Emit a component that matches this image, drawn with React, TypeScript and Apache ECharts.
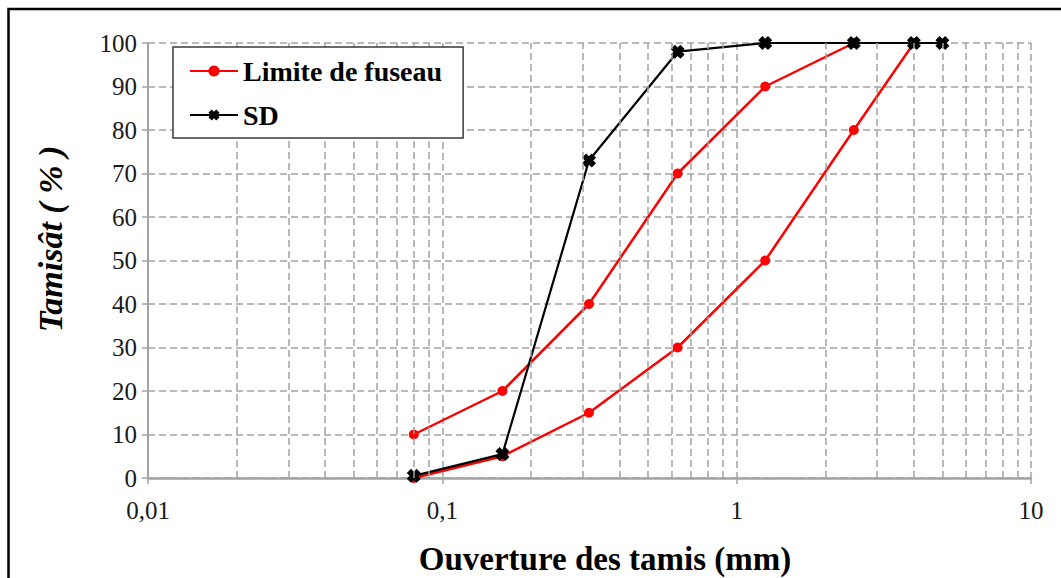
import React, { useEffect, useRef } from "react";
import * as echarts from "echarts";

// ---- data ----
const sieveSizes = [0.08, 0.16, 0.315, 0.63, 1.25, 2.5, 4, 5];
const fuseauUpperSizes = [0.08, 0.16, 0.315, 0.63, 1.25, 2.5];
const fuseauUpperValues = [10, 20, 40, 70, 90, 100];
const fuseauLowerSizes = [0.08, 0.16, 0.315, 0.63, 1.25, 2.5, 4];
const fuseauLowerValues = [0, 5, 15, 30, 50, 80, 100];
const sdValues = [0.5, 5.5, 73, 98, 100, 100, 100, 100];
const xTickLabels = ["0,01", "0,1", "1", "10"];
const yTickValues = [0, 10, 20, 30, 40, 50, 60, 70, 80, 90, 100];
const decades = [0.01, 0.1, 1];
const minorMultipliers = [2, 3, 4, 5, 6, 7, 8, 9];

const SERIF = '"Liberation Serif", "Times New Roman", serif';
const GRID_COLOR = "#a3a3a3";
const CROSS =
  "path://M0,3 L3,0 L5,2 L7,0 L10,3 L8,5 L10,7 L7,10 L5,8 L3,10 L0,7 L2,5 Z";

export default function App() {
  const ref = useRef<HTMLDivElement>(null);
  useEffect(() => {
    if (!ref.current) return;
    const chart = echarts.init(ref.current, null, { renderer: "svg" });
    const minorGrid: number[] = [];
    decades.forEach((d) =>
      minorMultipliers.forEach((m) => minorGrid.push(+(d * m).toPrecision(3)))
    );
    chart.setOption({
      animation: false,
      backgroundColor: "#ffffff",
      grid: { left: 148, right: 30, top: 43, bottom: 100, containLabel: false },
      legend: {
        data: ["Limite de fuseau", "SD"],
        orient: "vertical",
        left: 173,
        top: 47,
        z: 20,
        padding: [9, 21, 8, 16],
        itemGap: 14,
        itemWidth: 48,
        itemHeight: 14,
        backgroundColor: "#ffffff",
        borderColor: "#3a3a3a",
        borderWidth: 1.5,
        borderRadius: 0,
        selectedMode: false,
        textStyle: {
          fontFamily: SERIF,
          fontSize: 28,
          fontWeight: "bold",
          color: "#000",
          lineHeight: 30,
        },
      },
      xAxis: {
        type: "log",
        logBase: 10,
        min: 0.01,
        max: 10,
        axisLine: { show: true, onZero: false, lineStyle: { color: GRID_COLOR, width: 2.5 } },
        axisTick: { show: true, inside: false, length: 6, lineStyle: { color: GRID_COLOR, width: 1.5 } },
        axisLabel: {
          margin: 20,
          fontFamily: SERIF,
          fontSize: 25,
          color: "#1a1a1a",
          formatter: (v: number) => xTickLabels[Math.round(Math.log10(v)) + 2] ?? "",
        },
        splitLine: { show: true, lineStyle: { color: GRID_COLOR, type: [7, 4], width: 1.5 } },
      },
      yAxis: {
        type: "value",
        min: yTickValues[0],
        max: yTickValues[yTickValues.length - 1],
        interval: 10,
        axisLine: { show: true, lineStyle: { color: GRID_COLOR, width: 2 } },
        axisTick: { show: true, inside: false, length: 6, lineStyle: { color: GRID_COLOR, width: 1.5 } },
        axisLabel: { margin: 11, fontFamily: SERIF, fontSize: 25, color: "#1a1a1a" },
        splitLine: { show: true, lineStyle: { color: GRID_COLOR, type: [7, 4], width: 1.5 } },
      },
      series: [
        {
          name: "minorGrid",
          type: "line",
          data: [],
          z: 1,
          silent: true,
          markLine: {
            silent: true,
            symbol: ["none", "none"],
            label: { show: false },
            lineStyle: { color: GRID_COLOR, type: [7, 4], width: 1.5 },
            emphasis: { disabled: true },
            data: minorGrid.map((v) => ({ xAxis: v })),
          },
        },
        {
          name: "Limite de fuseau",
          type: "line",
          z: 3,
          data: fuseauUpperSizes.map((s, i) => [s, fuseauUpperValues[i]]),
          symbol: "circle",
          symbolSize: 10,
          itemStyle: { color: "#ff0000" },
          lineStyle: { color: "#ff0000", width: 2.5 },
          emphasis: { disabled: true },
        },
        {
          name: "Limite de fuseau",
          type: "line",
          z: 3,
          data: fuseauLowerSizes.map((s, i) => [s, fuseauLowerValues[i]]),
          symbol: "circle",
          symbolSize: 10,
          itemStyle: { color: "#ff0000" },
          lineStyle: { color: "#ff0000", width: 2.5 },
          emphasis: { disabled: true },
        },
        {
          name: "SD",
          type: "line",
          z: 4,
          data: sieveSizes.map((s, i) => [s, sdValues[i]]),
          symbol: CROSS,
          symbolSize: [14, 14],
          itemStyle: { color: "#000000" },
          lineStyle: { color: "#000000", width: 2.2 },
          emphasis: { disabled: true },
        },
      ],
      graphic: [
        {
          type: "rect",
          shape: { x: 8.5, y: 9, width: 1200, height: 800 },
          style: { fill: "none", stroke: "#000", lineWidth: 2.5 },
          silent: true,
          z: 100,
        },
        {
          type: "text",
          x: 50,
          y: 239,
          rotation: Math.PI / 2,
          style: {
            text: "Tamisât ( % )",
            fontFamily: SERIF,
            fontSize: 34,
            fontWeight: "bold",
            fontStyle: "italic",
            fill: "#000",
            align: "center",
            verticalAlign: "middle",
          },
          z: 100,
        },
        {
          type: "text",
          x: 605,
          y: 559,
          style: {
            text: "Ouverture des tamis (mm)",
            fontFamily: SERIF,
            fontSize: 33,
            fontWeight: "bold",
            fill: "#000",
            align: "center",
            verticalAlign: "middle",
          },
          z: 100,
        },
      ],
    });
    return () => chart.dispose();
  }, []);
  return (
    <div
      ref={ref}
      style={{ position: "fixed", left: 0, top: 0, width: 1061, height: 578, background: "#fff" }}
    />
  );
}
